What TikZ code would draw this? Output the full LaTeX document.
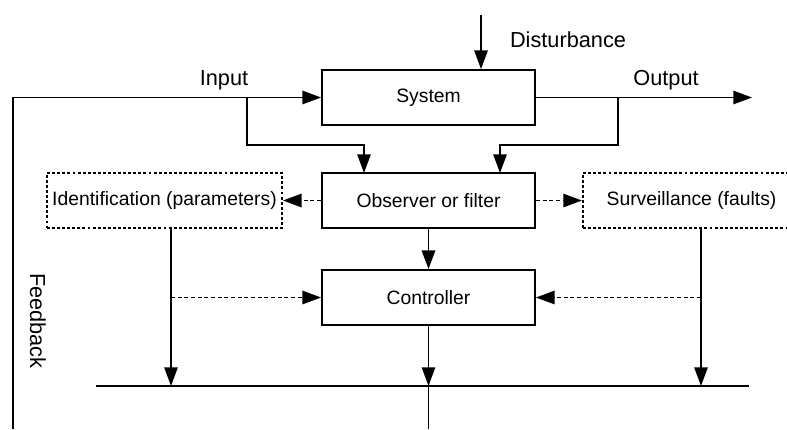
\documentclass[tikz,border=0pt]{standalone}
\usepackage{fontspec}
\setmainfont{Liberation Sans}
\usetikzlibrary{arrows.meta}

\begin{document}
\begin{tikzpicture}[x=0.75pt,y=-0.75pt,
        font=\fontsize{14.5}{17}\selectfont,
        line width=1.35pt,
        block/.style={draw,minimum width=159.75pt,minimum height=41.25pt,inner sep=0pt},
        dotblock/.style={draw,dash pattern=on 2.2pt off 1.6pt,minimum height=41.25pt,inner sep=0pt},
        lbl/.style={font=\fontsize{16.3}{19}\selectfont},
        arr/.style={-{Triangle[length=14pt,width=10pt]}},
        darr/.style={arr,dash pattern=on 3pt off 2pt}]
                \useasboundingbox (0,0) rectangle (787,429);

                % blocks
                \node [block] (sys) at (428.5,97.5) {System};
                \node [block] (obs) at (428.5,200.5) {Observer or filter};
                \node [block] (ctrl) at (428.5,297.5) {Controller};
                \node [dotblock,minimum width=176.25pt] (ident) at (164.5,200.5) {Identification (parameters)};
                \node [dotblock,minimum width=163pt] (surv) at (691.5,200.5) {Surveillance (faults)};

                % labels
                \node [lbl] (inLbl) at (224,80) {Input};
                \node [lbl] (outLbl) at (666,80) {Output};
                \node [lbl] (distLbl) at (568,40) {Disturbance};
                \node [lbl,rotate=-90] (fbLbl) at (38,321) {Feedback};

                % points
                \coordinate (distTop) at (481,15);
                \coordinate (fbEnd) at (13,429);
                \coordinate (inTap) at (247,97.5);
                \coordinate (outTap) at (618,97.5);
                \coordinate (obsIn) at (364,173);
                \coordinate (obsOut) at (500,173);
                \coordinate (outEnd) at (752,97.5);
                \coordinate (identOut) at (171,228);
                \coordinate (survOut) at (701,228);
                \coordinate (busL) at (96,386);
                \coordinate (busR) at (749,386);

                % system
                \draw [arr] (distTop) -- (distTop |- sys.north);
                \draw [arr] (fbEnd) |- (sys.west);
                \draw [arr] (sys.east) -- (outEnd);
                \draw [arr] (inTap) -- ++(0,47.5) -| (obsIn);
                \draw [arr] (outTap) -- ++(0,47.5) -| (obsOut);

                % observer
                \draw [darr] (obs.west) -- (ident.east);
                \draw [darr] (obs.east) -- (surv.west);
                \draw [arr] (obs.south) -- (ctrl.north);

                % bus
                \draw (busL) -- (busR);
                \draw [arr] (identOut) -- (identOut |- busL);
                \draw [darr] (identOut |- ctrl.west) -- (ctrl.west);
                \draw [arr] (survOut) -- (survOut |- busL);
                \draw [darr] (survOut |- ctrl.east) -- (ctrl.east);
                \draw [arr] (ctrl.south) -- (ctrl.south |- busL);
                \draw (ctrl.south |- busL) -- (ctrl.south |- fbEnd);
\end{tikzpicture}
\end{document}
